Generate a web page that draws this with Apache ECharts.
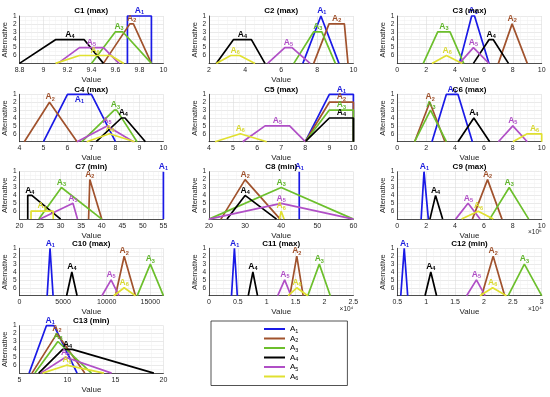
<!DOCTYPE html>
<html><head><meta charset="utf-8">
<script src="https://cdn.jsdelivr.net/npm/echarts@6/dist/echarts.min.js"></script>
<style>html,body{margin:0;padding:0;background:#fff}#c{width:550px;height:397px}</style>
</head><body><div id="c"></div>
<script>
// ---- data ----
const alternatives = ['A1','A2','A3','A4','A5','A6'];
const criteria = ['C1 (max)','C2 (max)','C3 (max)','C4 (max)','C5 (max)','C6 (max)','C7 (min)','C8 (min)','C9 (max)','C10 (max)','C11 (max)','C12 (min)','C13 (min)'];
// trapezoidal fuzzy numbers [a,b,c,d] per alternative
const C1 = [[9.7,9.7,9.9,9.9],[9.5,9.72,9.75,9.9],[9.4,9.6,9.66,9.9],[8.8,9.1,9.34,9.5],[9.12,9.3,9.5,9.63],[9.1,9.3,9.56,9.67]];
const C2 = [[7.2,8.2,8.3,9.2],[7.8,8.65,9.5,9.7],[6.7,7.8,8.25,9.0],[2.4,3.35,4.35,5.1],[5.25,6.2,6.6,7.6],[2.4,3.2,3.7,4.55]];
const C3 = [[4.3,5.15,5.35,6.35],[7.0,7.95,7.95,9.0],[1.8,2.8,3.65,4.6],[5.27,6.35,6.65,7.7],[4.3,5.27,5.27,6.35],[2.4,3.4,3.5,4.5]];
const C4 = [[5,6,7,8],[4.2,5.25,5.3,6.4],[6.6,7.95,8.05,8.9],[7.2,8.25,8.4,9.25],[6.4,7.65,7.65,8.75],[6.8,7.75,7.8,8.8]];
const C5 = [[8,9,10,10],[8,9,10,10],[8,9,10,10],[8,9,10,10],[5.4,6.33,7.35,8],[4.25,5.3,5.3,6.4]];
const C6 = [[2.4,3.4,4.2,5.2],[1.2,2.25,2.3,3.3],[1.2,2.3,2.35,3.4],[4.2,5.3,5.3,6.4],[7,8,8,9],[8,9,10,10]];
const C7 = [[55,55,55,55],[36.8,37.1,37.1,40],[24.7,30.2,30.2,40],[22,22,23,30],[25,33,33,34.1],[22.8,22.8,28.2,28.2]];
const C8 = [[45,45,45,45],[23.3,30,30,39.7],[20,40,40,60],[25,30,30,38.7],[20,40,40,60],[39.5,40,40,40.8]];
const C9 = [[1.65e6,1.85e6,1.9e6,2.15e6],[5.2e6,6.25e6,6.25e6,7.25e6],[6.4e6,7.75e6,7.75e6,9.1e6],[2.26e6,2.65e6,2.65e6,3.14e6],[4.04e6,4.9e6,4.95e6,5.73e6],[4.45e6,5.6e6,5.65e6,6.65e6]];
const C10 = [[3170,3500,3550,3850],[11000,12000,12000,13300],[13500,15000,15000,16500],[5400,6000,6000,6600],[9450,10500,10500,11400],[10800,12000,12000,13300]];
const C11 = [[3900,4400,4500,4900],[14000,15200,15200,16300],[17100,19100,19100,21000],[6800,7600,7600,8400],[11900,13100,13200,14200],[13700,15200,15300,17100]];
const C12 = [[5600,6200,6300,6800],[19600,21600,21600,23600],[24200,27000,27000,30000],[9800,10800,10800,11800],[17000,18700,18700,20200],[19300,21500,21500,23900]];
const C13 = [[6,7.8,8.6,11],[6.3,8.9,8.9,11.8],[6.6,9,9,12.5],[7,9.5,10.5,19],[7.2,9.8,9.8,14.6],[7.4,9.9,10,13.8]];
const xMin  = [8.8,2,0,4,4,0,20,20,0,0,0,5000,5];
const xMax  = [10,10,10,10,10,10,55,60,1e7,16500,25000,30000,20];
const xStep = [0.2,2,2,1,1,2,5,10,2e6,5000,5000,5000,5];
const xDiv  = [1,1,1,1,1,1,1,1,1e6,1,1e4,1e4,1];
const yTicks = [1,2,3,4,5,6];

// ---- style / layout ----
const allData = [C1,C2,C3,C4,C5,C6,C7,C8,C9,C10,C11,C12,C13];
const colors = ['#1a1ae6','#a0522d','#6cbf2c','#000000','#b04fc6','#e0e030'];
const labelColors = ['#2020dd','#a0522d','#5fb52a','#000000','#b04fc6','#d8d830'];
const FONT = '"Liberation Sans", Arial, sans-serif';
const colLeft = [19, 209, 397.3];
const rowTop = [16, 94.3, 171.7, 248.3, 325.7];
const W = 144.4, H = 47.4;
const labelPosOverride = {'3-0':'bottom'};
const expo = {8:'×10⁶', 10:'×10⁴', 11:'×10⁴'};

const grids=[], xAxes=[], yAxes=[], series=[], graphics=[];
const fmt = v => String(parseFloat(v.toFixed(6)));
allData.forEach((D,k)=>{
  const col = k%3, row = Math.floor(k/3);
  const L = colLeft[col], T = rowTop[row];
  const nSteps = (xMax[k]-xMin[k])/xStep[k];
  const evenSteps = Math.abs(nSteps - Math.round(nSteps)) < 1e-6;
  grids.push({left:L, top:T, width:W, height:H, containLabel:false});
  xAxes.push({gridIndex:k, type:'value', min:xMin[k], max:xMax[k], interval:xStep[k],
    name:'Value', nameLocation:'middle', nameGap:12.5,
    nameTextStyle:{fontSize:8, color:'#262626', fontFamily:FONT},
    axisLine:{show:true, onZero:false, lineStyle:{color:'#262626', width:0.8}},
    axisTick:{show:false},
    axisLabel:{fontSize:7, color:'#262626', margin:3, fontFamily:FONT, showMaxLabel: evenSteps,
      formatter: v => fmt(v/xDiv[k])},
    splitLine:{show:true, lineStyle:{color:'#dcdcdc', width:0.6}},
    minorTick:{show:false, splitNumber:4},
    minorSplitLine:{show:true, lineStyle:{color:'#eeeeee', width:0.5}}
  });
  yAxes.push({gridIndex:k, type:'value', inverse:true, min:1, max:7, interval:1,
    name:'Alternative', nameLocation:'middle', nameGap:9, nameRotate:90,
    nameTextStyle:{fontSize:7.5, color:'#262626', fontFamily:FONT},
    axisLine:{show:true, lineStyle:{color:'#262626', width:0.8}},
    axisTick:{show:false},
    axisLabel:{fontSize:6.5, color:'#262626', margin:3, fontFamily:FONT,
      formatter: v => yTicks.indexOf(v) >= 0 ? String(v) : ''},
    splitLine:{show:true, lineStyle:{color:'#dcdcdc', width:0.6}},
    minorTick:{show:false, splitNumber:2},
    minorSplitLine:{show:true, lineStyle:{color:'#eeeeee', width:0.5}}
  });
  graphics.push({type:'text', x:L+W/2, y:T-1, z:10,
    style:{text:criteria[k], align:'center', verticalAlign:'bottom', fill:'#000',
      font:'bold 8px ' + FONT}});
  if (expo[k]) graphics.push({type:'text', x:L+W, y:T+H+10, z:10,
    style:{text:expo[k], align:'right', verticalAlign:'top', fill:'#262626', font:'6.5px ' + FONT}});
  D.forEach((f,i)=>{
    const lvl = i+1;
    const c = colors[i], lc = labelColors[i];
    const pos = labelPosOverride[k+'-'+i] || 'top';
    series.push({
      type:'line', name:alternatives[i], xAxisIndex:k, yAxisIndex:k,
      color:c, symbol:'circle', symbolSize:0.1, showSymbol:true, clip:false,
      lineStyle:{color:c, width:1.7}, itemStyle:{color:c},
      emphasis:{disabled:true}, silent:true, z:2+i,
      data:[[f[0],7],[f[1],lvl],
        {value:[(f[1]+f[2])/2,lvl], label:{show:true, position:pos, distance:0,
          formatter:'{a|A}{s|'+lvl+'}',
          rich:{a:{fontSize:8.5, fontWeight:'bold', color:lc, fontFamily:FONT, lineHeight:10},
                s:{fontSize:5.5, fontWeight:'bold', color:lc, fontFamily:FONT, verticalAlign:'bottom', lineHeight:5}}}},
        [f[2],lvl],[f[3],7]]
    });
  });
});

const chart = echarts.init(document.getElementById('c'), null, {renderer:'canvas'});
chart.setOption({
  animation:false,
  backgroundColor:'#fff',
  grid:grids, xAxis:xAxes, yAxis:yAxes, series:series, graphic:graphics,
  legend:{data:alternatives, orient:'vertical', left:211, top:321, selectedMode:false,
    padding:[4,49,4,53], itemGap:0.5, itemWidth:21, itemHeight:2, icon:'rect',
    borderColor:'#262626', borderWidth:0.8,
    formatter: n => '{a|A}{s|'+n.slice(1)+'}',
    textStyle:{color:'#000', fontFamily:FONT,
      rich:{a:{fontSize:8, lineHeight:10, fontFamily:FONT}, s:{fontSize:5.5, verticalAlign:'bottom', lineHeight:5, fontFamily:FONT}}}}
});
</script></body></html>
